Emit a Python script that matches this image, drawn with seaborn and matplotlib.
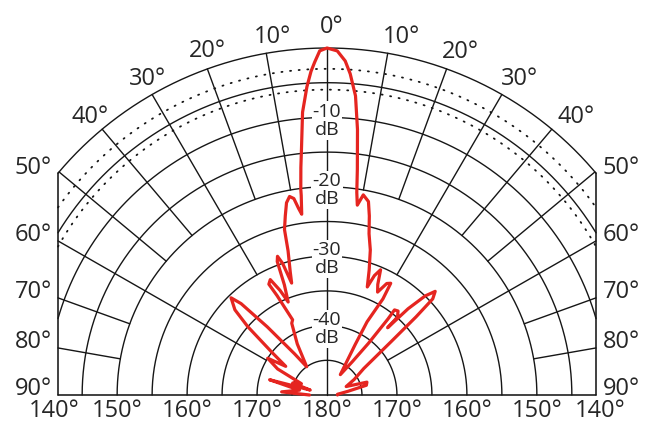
import numpy as np
import pandas as pd
import matplotlib
matplotlib.use("Agg")
import matplotlib.pyplot as plt
import seaborn as sns

# ---- measured radiation pattern: angle (deg, negative = left) and level (dB) ----
pattern_angle = [-90, -86, -80, -75, -73.5, -70.5, -66, -62, -58, -55, -52, -49, -47,
                 -44.4, -43, -41, -38, -35.5, -30, -26, -24.4, -26.5, -27.5, -26,
                 -24, -22.5, -21, -20.3, -19.5, -18.5, -17.4, -16.5, -15, -14.3, -13,
                 -11.8, -10.6, -9.5, -8.6, -7.9, -7.3, -7.2, -6.5, -5.8, -4.9, -3.7,
                 -2.8, -2.1, -1.2, 0,
                 1.7, 3.1, 4.1, 5.4, 6.5, 7.6, 8.3, 9.0, 10.2, 12, 13.2, 14.5, 16.5,
                 18.5, 20.3, 21.5, 23, 24.5, 26, 28, 29.5, 30, 28.5, 29, 33, 37, 38.5,
                 38.5, 38.2, 40, 41.9, 41.8, 43, 44.5, 46, 47.5, 48.5, 50, 54, 60, 66,
                 72, 76, 80, 86, 90]
pattern_db = [-47.5, -43.5, -46, -41.5, -47.5, -44.8, -46, -42, -40, -42.8, -40, -35, -32,
              -30.4, -32, -37, -42.5, -45, -41.5, -38.5, -38.1, -34, -32, -31.5,
              -33.5, -35.5, -33, -29.5, -28.8, -30, -33.1, -31.5, -28.5, -25.4, -23.5,
              -21.7, -20.9, -21.3, -22.8, -23.7, -21, -20.1, -17, -14, -9.1, -5.5,
              -3.3, -2.0, -0.4, 0,
              -0.4, -1.8, -3.6, -6.7, -11.5, -17.2, -20.5, -22.3, -20.7, -21.5, -23.5, -26, -28.2,
              -31, -33.4, -31.5, -30.4, -32.5, -33.5, -31.8, -31.5, -34, -38, -41.7, -46.5, -44, -40.5,
              -36, -34.4, -34.2, -34.9, -37, -33, -30, -28.5, -29.5, -33, -38, -43.5, -45.5, -47,
              -44, -44.2, -47, -48.5, -48.5]

# ---- grid definition ----
solid_rings = [0, -5, -10, -15, -20, -25, -30, -35, -40, -45]
dotted_rings = [-3, -6]
spoke_angles = [0, 10, 20, 30, 40, 50, 60, 70, 80]
spoke_inner_db = [-50, -20, -20, -30, -20, -20, -40, -20, -20]
db_label_levels = [-10, -20, -30, -40]
top_labels = ["0°", "10°", "20°", "30°", "40°", "10°", "20°", "30°", "40°"]
side_labels = ["50°", "60°", "70°", "80°", "90°"]
side_label_angles = [50, 60, 70, 80, 90]
bottom_labels = ["140°", "150°", "160°", "170°", "180°"]
bottom_label_db = [None, -20, -30, -40, -50]

FLOOR = -50.0           # level drawn at the centre
SY = 6.94               # pixels per dB vertically
SX = SY * 1.008         # pixels per dB horizontally
CX, CY = 327, 395       # centre of the chart in pixels
W, H = 654, 423
XE = 269 / SX           # half width of the clipping frame

GRID = "#161616"
TXT = "#262626"
RED = "#e52520"


def rad(db):
    return np.asarray(db, dtype=float) - FLOOR


def polar_xy(theta_deg, db):
    t = np.radians(np.asarray(theta_deg, dtype=float))
    u = rad(db)
    return u * np.sin(t), u * np.cos(t)


def px(x_pix, y_pix):
    return (x_pix - CX) / SX, (CY - y_pix) / SY


sns.set_theme(style="white")
plt.rcParams["font.family"] = ["Open Sans", "DejaVu Sans"]

fig = plt.figure(figsize=(W / 100, H / 100), dpi=100)
ax = fig.add_axes([0, 0, 1, 1])
ax.set_xlim(-CX / SX, (W - CX) / SX)
ax.set_ylim(-(H - CY) / SY, CY / SY)
ax.axis("off")

# rings, clipped by the vertical frame
for lvl in solid_rings + dotted_rings:
    u = rad(lvl)
    tmax = np.degrees(np.arcsin(min(1.0, XE / u)))
    th = np.linspace(-tmax, tmax, 400)
    x, y = polar_xy(th, lvl)
    if lvl in dotted_rings:
        ax.plot(x, y, color=GRID, lw=1.3, ls=(0, (0.6, 4.2)), dash_capstyle="round", zorder=1)
    else:
        ax.plot(x, y, color=GRID, lw=1.0, zorder=1)

# spokes
for ang, inner in zip(spoke_angles, spoke_inner_db):
    for s in ([1, -1] if ang else [1]):
        t = np.radians(ang)
        u_out = 50.0 if np.sin(t) * 50 <= XE else XE / np.sin(t)
        u_in = rad(inner)
        ax.plot([s * u_in * np.sin(t), s * u_out * np.sin(t)],
                [u_in * np.cos(t), u_out * np.cos(t)], color=GRID, lw=1.0, zorder=1)

# 90 degree base line and frame sides
ytop = np.sqrt(50 ** 2 - XE ** 2)
ax.plot([-XE, XE], [0, 0], color=GRID, lw=1.15, zorder=1)
for s in (-1, 1):
    ax.plot([s * XE, s * XE], [0, ytop], color=GRID, lw=1.15, zorder=1)

# level labels on the main axis
for lvl in db_label_levels:
    ax.text(0, rad(lvl) - 0.45, f"{lvl}\ndB", ha="center", va="center", fontsize=14,
            color=TXT, linespacing=1.0, zorder=3,
            bbox=dict(boxstyle="square,pad=0.06", fc="white", ec="none"))

# angle labels along the top arc
top_pos = [(332, 27), (272, 37), (207, 51), (148, 79), (90, 117),
           (401, 37), (460, 52), (519, 79), (576, 117)]
for lab, (xp, yp) in zip(top_labels, top_pos):
    ax.text(*px(xp, yp), lab, ha="center", va="center", fontsize=17, color=TXT)

# angle labels on the frame sides
side_lift = [0.45, 0.9, 0.9, 0.9, 0.9]
for lab, ang, lift in zip(side_labels, side_label_angles, side_lift):
    yh = XE / np.tan(np.radians(ang)) + lift
    for xp in (33, 621):
        ax.text(px(xp, 0)[0], yh, lab, ha="center", va="center", fontsize=17, color=TXT)

# rear-angle labels along the base line
for lab, lvl in zip(bottom_labels, bottom_label_db):
    xr = XE + 0.55 if lvl is None else float(rad(lvl))
    yb = px(0, 411)[1]
    for s in ([-1, 1] if xr > 0 else [1]):
        ax.text(s * xr, yb, lab, ha="center", va="center", fontsize=17, color=TXT)

# the pattern itself
px_, py_ = polar_xy(pattern_angle, pattern_db)
df = pd.DataFrame({"x": px_, "y": py_})
sns.lineplot(data=df, x="x", y="y", sort=False, estimator=None, ax=ax, color=RED,
             lw=2.3, solid_joinstyle="round", solid_capstyle="round", zorder=4)
ax.set_xlabel("")
ax.set_ylabel("")
ax.axis("off")

fig.savefig("out.png", dpi=100, facecolor="white")
